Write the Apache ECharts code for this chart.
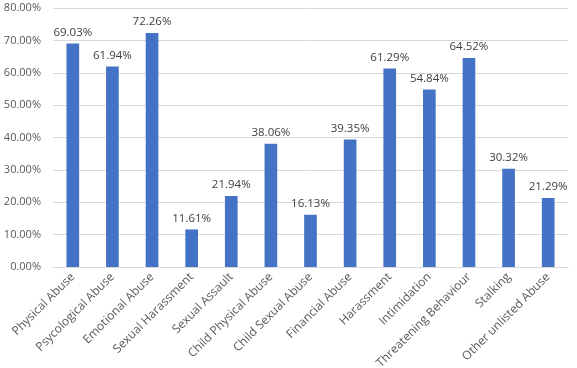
<!DOCTYPE html>
<html><head><meta charset="utf-8">
<script src="https://cdn.jsdelivr.net/npm/echarts@6/dist/echarts.min.js"></script>
<style>html,body{margin:0;padding:0;background:#fff}#c{width:577px;height:368px}</style>
</head><body><div id="c"></div>
<script>
const categories = ["Physical Abuse","Psycological Abuse","Emotional Abuse","Sexual Harassment","Sexual Assault","Child Physical Abuse","Child Sexual Abuse","Financial Abuse","Harassment","Intimidation","Threatening Behaviour","Stalking","Other unlisted Abuse"];
const values = [69.03,61.94,72.26,11.61,21.94,38.06,16.13,39.35,61.29,54.84,64.52,30.32,21.29];
const yTicks = {min:0,max:80,interval:10};
const chart = echarts.init(document.getElementById('c'));
const font = 'Open Sans';
chart.setOption({
  animation:false,
  grid:{left:53,right:9,top:8,bottom:101,containLabel:false,outerBoundsMode:'none'},
  xAxis:{type:'category',data:categories,
    axisLine:{lineStyle:{color:'#D9D9D9'}},axisTick:{show:false},
    axisLabel:{rotate:45,interval:0,color:'#595959',fontSize:12,fontFamily:font,margin:8}},
  yAxis:{type:'value',min:yTicks.min,max:yTicks.max,interval:yTicks.interval,
    axisLine:{show:false},axisTick:{show:false},
    splitLine:{lineStyle:{color:'#D9D9D9'}},
    axisLabel:{formatter:v=>v.toFixed(2)+'%',color:'#595959',fontSize:11,fontFamily:font,margin:12}},
  series:[{type:'bar',data:values,barWidth:'32%',itemStyle:{color:'#4472C4'},
    label:{show:true,position:'top',formatter:p=>p.value.toFixed(2)+'%',color:'#404040',fontSize:11.5,fontFamily:font,distance:5}}]
});
</script></body></html>
